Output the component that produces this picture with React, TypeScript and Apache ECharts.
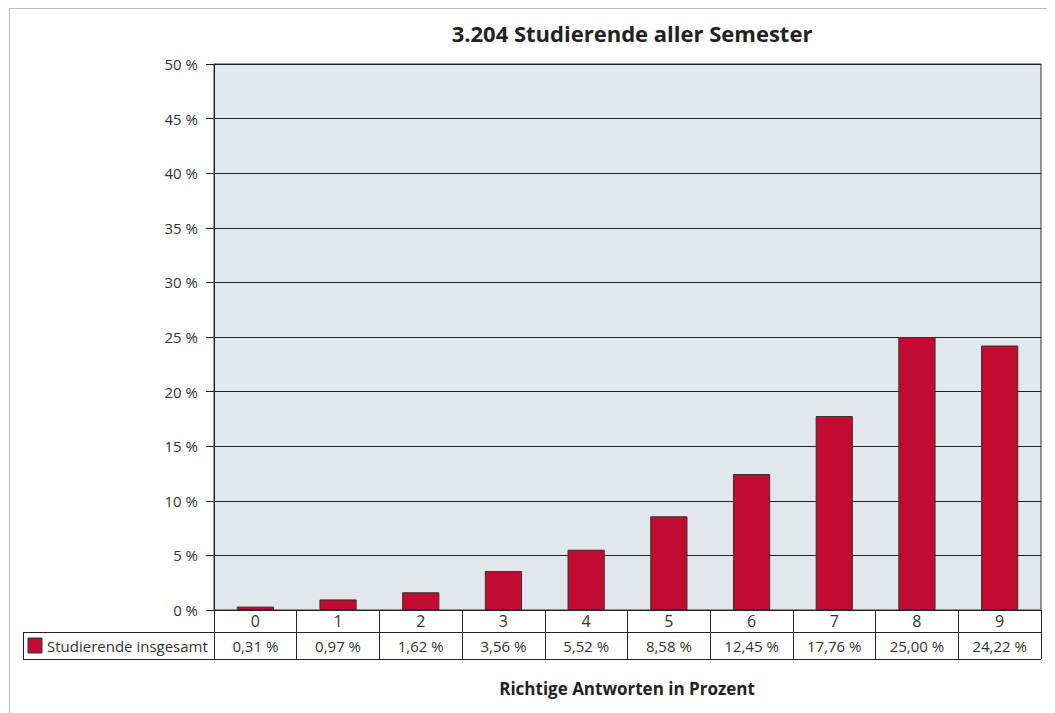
import React, { useEffect, useRef } from "react";
import * as echarts from "echarts";

const categories = ["0", "1", "2", "3", "4", "5", "6", "7", "8", "9"];
const values = [0.31, 0.97, 1.62, 3.56, 5.52, 8.58, 12.45, 17.76, 25.0, 24.22];
const seriesName = "Studierende insgesamt";
const title = "3.204 Studierende aller Semester";
const xTitle = "Richtige Antworten in Prozent";

const FONT = "'Open Sans', 'Noto Sans', sans-serif";
const W = 1047;
const H = 705;
const G_LEFT = 206;
const G_RIGHT = 1033;
const G_TOP = 56;
const G_BOTTOM = 602;
const ROW1 = 22;
const ROW2 = 27;
const TABLE_LEFT = 15;

const fmt = (v: number) => v.toFixed(2).replace(".", ",") + " %";

export default function App() {
  const ref = useRef<HTMLDivElement>(null);
  useEffect(() => {
    if (!ref.current) return;
    const chart = echarts.init(ref.current, undefined, { renderer: "svg" });
    const y1 = G_BOTTOM + ROW1;
    const y2 = G_BOTTOM + ROW1 + ROW2;
    chart.setOption({
      animation: false,
      backgroundColor: "#ffffff",
      textStyle: { fontFamily: FONT },
      title: {
        text: title,
        left: 619,
        top: 9,
        textAlign: "center",
        textStyle: { fontFamily: FONT, fontSize: 22, fontWeight: "bold", color: "#222" },
      },
      grid: {
        left: G_LEFT,
        top: G_TOP,
        width: G_RIGHT - G_LEFT,
        height: G_BOTTOM - G_TOP,
        show: true,
        backgroundColor: "#e1e7eb",
        borderColor: "#333",
        borderWidth: 1,
      },
      xAxis: {
        type: "category",
        data: categories,
        boundaryGap: true,
        axisLine: { show: true, lineStyle: { color: "#222", width: 1 } },
        axisTick: { show: true, length: ROW1 + ROW2, lineStyle: { color: "#222", width: 1 }, inside: false },
        axisLabel: {
          margin: 0,
          interval: 0,
          formatter: (v: string, i: number) => `{a|${v}}\n{b|${fmt(values[i])}}`,
          rich: {
            a: { fontFamily: FONT, fontSize: 16, color: "#333", lineHeight: ROW1, height: ROW1, verticalAlign: "middle" },
            b: { fontFamily: FONT, fontSize: 15, color: "#333", lineHeight: ROW2, height: ROW2, verticalAlign: "middle" },
          },
        },
      },
      yAxis: {
        type: "value",
        min: 0,
        max: 50,
        interval: 5,
        axisLine: { show: true, lineStyle: { color: "#222", width: 1 } },
        axisTick: { show: true, length: 8, lineStyle: { color: "#222" } },
        axisLabel: {
          margin: 16,
          fontFamily: FONT,
          fontSize: 15,
          color: "#333",
          formatter: (v: number) => `${v} %`,
        },
        splitLine: { show: true, lineStyle: { color: "#222", width: 1 } },
      },
      series: [
        {
          name: seriesName,
          type: "bar",
          data: values,
          barWidth: "45%",
          itemStyle: { color: "#c20b30", borderColor: "#333", borderWidth: 1 },
        },
      ],
      graphic: [
        { type: "line", shape: { x1: 1.5, y1: 0, x2: 1.5, y2: H }, style: { stroke: "#bbb", lineWidth: 1 } },
        { type: "line", shape: { x1: 1, y1: 0.5, x2: W, y2: 0.5 }, style: { stroke: "#bbb", lineWidth: 1 } },
        { type: "line", shape: { x1: TABLE_LEFT, y1: y1 + 0.5, x2: G_RIGHT, y2: y1 + 0.5 }, style: { stroke: "#222", lineWidth: 1 } },
        { type: "line", shape: { x1: TABLE_LEFT, y1: y2 + 0.5, x2: G_RIGHT, y2: y2 + 0.5 }, style: { stroke: "#222", lineWidth: 1 } },
        { type: "line", shape: { x1: TABLE_LEFT + 0.5, y1: y1, x2: TABLE_LEFT + 0.5, y2: y2 + 1 }, style: { stroke: "#222", lineWidth: 1 } },
        { type: "rect", shape: { x: TABLE_LEFT + 5, y: y1 + 6, width: 14, height: 15 }, style: { fill: "#c20b30", stroke: "#333", lineWidth: 1 } },
        {
          type: "text",
          x: TABLE_LEFT + 24,
          y: y1 + ROW2 / 2 + 0.5,
          style: { text: seriesName, fontFamily: FONT, fontSize: 15, fill: "#333", verticalAlign: "middle", align: "left" },
        },
        {
          type: "text",
          x: 619,
          y: 680,
          style: { text: xTitle, fontFamily: FONT, fontSize: 17, fontWeight: "bold", fill: "#222", verticalAlign: "middle", align: "center" },
        },
      ],
    });
    return () => chart.dispose();
  }, []);
  return <div ref={ref} style={{ width: W, height: H, overflow: "hidden" }} />;
}
